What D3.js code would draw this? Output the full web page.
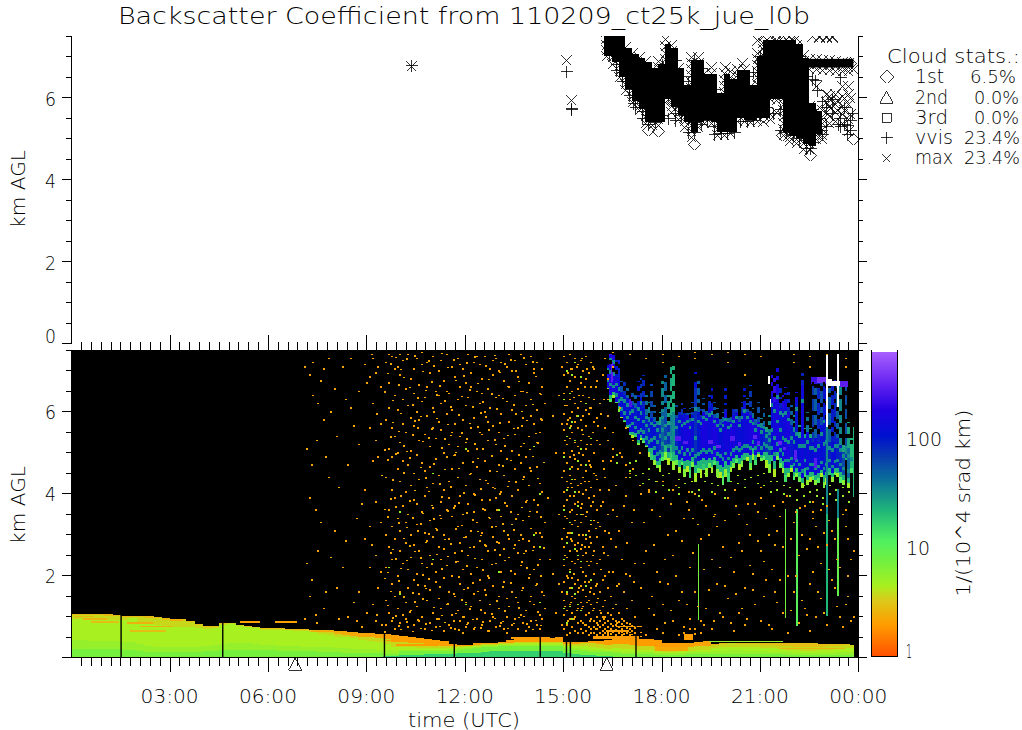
<!DOCTYPE html>
<html><head><meta charset="utf-8">
<script src="https://cdn.jsdelivr.net/npm/d3@7/dist/d3.min.js"></script>
<style>
html,body{margin:0;padding:0;background:#fff;overflow:hidden}
svg{display:block}
text{font-family:"DejaVu Sans";font-weight:200;fill:#000;stroke:none;white-space:pre}
.crisp *{shape-rendering:crispEdges}
.tick line,.domain{stroke:#000;stroke-width:1}
</style></head><body>
<svg id="c" width="1022" height="730"></svg>
<script>
// ---------- labels ----------
const titleText = "Backscatter Coefficient from 110209_ct25k_jue_l0b";
const xTickHours = [3,6,9,12,15,18,21,24];
const xTickLabels = ["03:00","06:00","09:00","12:00","15:00","18:00","21:00","00:00"];
const yTickKm = [0,2,4,6];
const legendNames = ["1st","2nd","3rd","vvis","max"];
const legendPct = ["6.5%","0.0%","0.0%","23.4%","23.4%"];
const colorTicks = [1,10,100];
const flagHours = [6.83,16.33];

// ---------- colour bar (value -> colour) ----------
const colorStops = [1,2,3.4,4.8,8.4,13,25,50,87,136,237,417,870];
const colorHexes = ["#ff5000","#ff9c00","#dcc818","#a8f020","#70f040","#50f060","#20b878","#0a7098","#0838b0","#0010d0","#2000e0","#6020f0","#a860ff"];

// ---------- near-surface aerosol layer, one entry per 15 minutes, km ----------
const layerTop = [1.06,1.06,1.05,1.05,1.04,1.03,1.01,1.01,1.0,.99,.97,.94,.92,.93,.87,.8,.75,.76,.83,.84,.79,.76,.74,.71,.7,.7,.69,.68,.68,.67,.66,.65,.63,.62,.6,.59,.58,.57,.56,.53,.51,.49,.47,.45,.42,.38,.32,.29,.3,.33,.34,.35,.37,.42,.46,.46,.47,.47,.47,.48,.36,.36,.37,.38,.4,.42,.44,.46,.46,.45,.44,.42,.34,.33,.33,.33,.36,.38,.32,.33,.34,.34,.34,.34,.34,.33,.33,.33,.33,.33,.33,.32,.32,.31,.31,.3];
const rimValue = [2.9,2.9,2.9,2.9,2.9,2.9,2.9,2.9,2.9,2.9,2.9,2.9,2.9,2.9,3,3,3,3,3,3,3,3,3,3,3,3,3,3,3,3,2.6,2.6,2.5,2.4,2.3,2.3,2.2,2.2,2.1,2.1,2.1,2.1,2.1,2.1,2.1,2.1,2.1,2.1,2.1,2.2,2.2,2.2,2.1,2.1,2,2,2,2,2,2,2.1,2.1,2.1,2.1,2.1,2.1,2,2,2,2,2,2,2,2,2.1,2.1,2.2,2.2,2.6,2.8,3,3,3,3,3,3,3,3,3,3,3,3,3,3,3,3];
const yellowTop = [1.03,1.03,1.02,1.02,1.01,1,.98,.98,.97,.96,.94,.91,.9,.91,.85,.78,.73,.74,.81,.82,.77,.74,.72,.69,.68,.68,.67,.66,.66,.64,.62,.6,.56,.54,.52,.5,.48,.46,.44,.36,.36,.34,.33,.32,.3,.28,.27,.27,.28,.3,.31,.32,.34,.35,.36,.36,.36,.36,.36,.36,.32,.32,.33,.33,.32,.3,.32,.32,.3,.28,.26,.24,.2,.2,.22,.24,.26,.28,.3,.32,.33,.32,.32,.32,.3,.3,.28,.26,.25,.24,.24,.25,.26,.27,.29,.29];
const limeTop = [.93,.93,.91,.9,.9,.91,.9,.94,.82,.8,.78,.76,.74,.74,.74,.7,.68,.71,.79,.8,.75,.72,.7,.67,.66,.66,.65,.64,.63,.61,.56,.53,.5,.48,.46,.42,.4,.36,.32,.25,.24,.24,.22,.22,.22,.22,.22,.24,.26,.28,.3,.3,.32,.32,.33,.33,.33,.33,.33,.33,.28,.26,.26,.24,.22,.2,.22,.2,.2,.18,.16,.15,.12,.12,.14,.15,.16,.18,.22,.24,.25,.25,.24,.24,.22,.22,.2,.18,.16,.14,.14,.16,.18,.2,.22,.22];
const softTop = [.42,.42,.4,.4,.38,.38,.36,.36,.32,.28,.25,.24,.24,.24,.25,.25,.27,.29,.32,.34,.34,.34,.32,.3,.3,.28,.27,.26,.25,.25,.24,.24,.22,.22,.2,.19,.19,.18,.16,.14,.18,.18,.18,.18,.18,.18,.19,.21,.23,.25,.27,.28,.29,.29,.3,.3,.3,.3,.3,.3,.24,.22,.2,.18,.16,.15,.15,.13,.13,.12,.11,.1,.09,.09,.1,.11,.11,.12,.14,.15,.16,.16,.15,.15,.14,.13,.13,.11,.1,.09,.09,.1,.1,.11,.12,.12];
const greenTop = [.2,.2,.2,.2,.2,.19,.18,.17,.15,.13,.12,.12,.12,.12,.12,.12,.14,.15,.16,.18,.18,.18,.16,.16,.16,.15,.15,.14,.14,.14,.12,.12,.12,.1,.1,.09,.09,.09,.08,.08,.14,.14,.14,.14,.14,.14,.15,.18,.2,.22,.24,.25,.26,.26,.27,.28,.28,.28,.28,.28,.2,.18,.15,.13,.12,.11,.1,.08,.08,.07,.07,.06,.06,.06,.06,.07,.07,.07,.08,.08,.08,.08,.08,.08,.07,.07,.07,.06,.06,.06,.05,.05,.05,.05,.05,.05];
const tealTop = [0,0,0,0,0,0,0,0,0,0,0,0,0,0,0,0,0,0,0,0,0,0,0,0,0,0,0,0,0,0,0,0,0,0,0,0,0,.01,.02,.03,.05,.06,.06,.07,.08,.08,.08,.09,.1,.1,.12,.14,.14,.14,.14,.14,.14,.14,.14,.14,.1,.08,.06,.05,.03,.02,.01,0,0,0,0,0,0,0,0,0,0,0,0,0,0,0,0,0,0,0,0,0,0,0,0,0,0,0,0,0];
// isolated patches: start h, end h, low km, high km, value
const layerPatches = [[.35,1.1,.9,.95,2.7],[.6,1.45,.83,.87,3],[1.7,2.5,.8,.86,2.6],[2.1,3.1,.72,.76,2.7],[1.8,2.9,.62,.66,3],[3,3.4,.88,.92,2.5],[.1,.7,.97,1,2.8],[5.15,5.75,.84,.87,2.2],[6.2,6.9,.84,.88,2.2],[7.3,8.4,.6,.63,2.3],[9.6,10.5,.38,.42,2],[9.9,11.2,.28,.31,2],[10.6,11.5,.34,.36,2.1],[13.4,14.6,.44,.5,2],[15.9,17.3,.45,.52,2],[16.3,17,.6,.66,2],[16.6,17.4,.72,.75,2],[18.7,18.95,.42,.55,2],[19.45,21.7,.36,.39,5.5],[17.8,18.8,.14,.24,2.3],[21.6,23.6,.2,.23,2.8]];
// signal drop-outs (start h, end h)
const dropouts = [[1.5,1.54],[4.6,4.64],[9.53,9.57],[11.66,11.7],[14.28,14.32],[15.08,15.12],[15.2,15.24],[17.2,17.24],[23.87,24]];

// ---------- cirrus, one entry per 5 minutes from 16:20, km ----------
const cloudStart = 16.33;
const cloudBase = [6.55,6.23,6.31,6.19,5.98,5.86,5.74,5.58,5.41,5.33,5.37,5.17,5.29,5.21,5.13,4.89,4.81,4.68,4.6,4.52,4.77,4.81,4.68,4.77,4.56,4.68,4.48,4.68,4.4,4.52,4.36,4.64,4.28,4.48,4.36,4.56,4.4,4.6,4.48,4.68,4.4,4.36,4.2,4.4,4.28,4.52,4.6,4.72,4.56,4.64,4.81,4.77,4.56,4.81,4.68,4.89,4.77,4.81,4.6,4.48,4.77,4.4,4.81,4.6,4.48,4.28,4.4,4.52,4.32,4.4,4.28,4.11,4.4,4.2,4.28,4.32,4.2,4.24,4.4,4.11,4.2,4.44,4.28,4.44,4.4,4.24,4.2,4.81,4.11,4.48];
const cloudGreenTop = [6.55,6.3,6.38,6.21,6.05,5.86,5.76,5.61,5.45,5.41,5.41,5.22,5.35,5.27,5.15,4.99,4.95,4.8,4.68,4.68,4.89,4.99,4.85,4.97,4.78,4.8,4.64,4.76,4.58,4.66,4.56,4.76,4.48,4.62,4.58,4.7,4.6,4.72,4.64,4.78,4.58,4.52,4.42,4.58,4.48,4.64,4.72,4.82,4.7,4.78,4.89,4.87,4.74,4.95,4.8,4.95,4.85,4.91,4.8,4.7,4.85,4.58,4.91,4.72,4.62,4.44,4.5,4.6,4.42,4.5,4.4,4.24,4.5,4.32,4.4,4.42,4.32,4.36,4.48,4.28,4.36,4.52,4.38,4.52,4.5,4.38,4.32,4.83,4.24,4.62];
const fringeValue = [7,12,5,16,7,5,14,6,10,4.5,18,7,5,12,8,4.5,20,6,9,5,14,7,4.5,18,6,10,5,13,7,4.5,16,8,5,11,4.5,20,6,9,5,15,7,4.5,12,6,18,5,8,14,4.5,7,22,5,10,6,16,4.5,9,13,5,7,20,4.5,8,11,5,16,6,4.5,13,7,9,5,18,6,4.5,11,7,14,5,8,4.5,20,6,10,5,13,7,24,5,16];
const coreBase = [6.55,6.39,6.47,6.23,6.11,5.86,5.78,5.66,5.5,5.5,5.46,5.29,5.41,5.33,5.17,5.09,5.09,4.93,4.77,4.85,5.01,5.17,5.01,5.17,5.01,4.93,4.81,4.85,4.77,4.81,4.77,4.89,4.68,4.77,4.81,4.85,4.81,4.85,4.81,4.89,4.77,4.68,4.64,4.77,4.68,4.77,4.85,4.93,4.85,4.93,4.97,4.97,4.93,5.09,4.93,5.01,4.93,5.01,5.01,4.93,4.93,4.77,5.01,4.85,4.77,4.6,4.6,4.68,4.52,4.6,4.52,4.36,4.6,4.44,4.52,4.52,4.44,4.48,4.56,4.44,4.52,4.6,4.48,4.6,4.6,4.52,4.44,4.85,4.36,4.77];
const coreTop = [7.12,7.37,7.37,6.8,6.8,6.47,6.39,6.31,6.23,6.15,6.07,6.15,6.31,6.07,5.9,5.74,5.82,5.74,5.66,5.66,5.98,5.86,5.66,5.9,5.98,5.82,5.9,5.9,5.82,5.9,5.74,5.9,6.55,5.98,5.82,5.98,5.9,6.07,6.07,5.82,5.82,5.66,5.74,5.98,5.74,5.74,5.9,5.98,5.74,5.98,6.15,5.98,5.9,5.82,5.66,5.74,5.58,5.66,5.5,5.41,6.39,6.23,6.55,6.07,6.07,6.23,5.98,5.66,5.5,6.23,5.33,6.63,5.33,5.5,5.33,5.25,5.33,5.25,5.66,5.98,5.58,5.25,5.25,5.25,5.33,5.17,5.01,5.17,5.09,4.85];
const cloudTop = [7.12,7.38,7.37,7.24,7.24,6.72,6.8,6.55,6.39,6.55,6.39,6.72,6.8,6.88,6.39,6.23,6.67,6.15,5.82,5.98,6.72,6.88,6.39,7.08,7.1,6.15,6.07,6.19,6.07,5.98,6.07,6.23,6.96,6.72,6.15,6.31,6.07,6.39,6.55,6.23,6.07,5.9,5.98,6.55,5.9,5.9,6.15,6.11,5.98,6.23,6.55,6.31,6.63,6.07,5.9,6.23,5.82,6.07,5.74,5.9,6.88,6.8,7.04,6.55,6.39,6.59,6.47,6.15,5.9,6.47,5.66,6.92,5.58,5.98,5.58,6.8,6.55,6.8,6.8,6.84,6.8,6.55,6.63,6.76,6.67,6.63,5.17,6.63,5.74,5.33];
const coreValue = [190,220,210,180,170,150,140,130,150,170,125,140,150,130,110,125,135,150,115,100,60,80,95,45,40,110,140,170,190,200,200,155,100,130,180,210,190,165,200,215,185,140,165,190,180,205,210,170,155,150,165,185,205,220,190,215,135,125,100,90,160,185,210,155,165,190,215,125,150,135,155,180,130,165,140,155,180,165,150,135,110,115,150,160,115,110,75,80,55,45];
const wispValue = [300,320,300,130,120,70,100,60,40,70,60,130,90,110,50,40,80,60,40,30,40,60,30,28,26,70,110,90,120,70,60,90,150,60,90,70,60,110,130,70,50,60,50,120,50,60,110,80,60,100,130,70,90,50,60,70,40,60,30,40,240,280,200,110,240,160,110,60,40,190,30,110,30,50,30,90,60,110,70,130,150,60,120,110,60,40,30,70,30,25];
// black gaps in the thin upper strands, per column, km
const wispGaps = [[6.9],[7.15],[6.95],[7.1,6.9],[7.05],[6.6],[6.7,6.5],[6.4],[6.3],[6.45,6.25],[6.2],[6.6,6.4,6.25],[6.65,6.45],[6.75,6.5,6.25],[6.25,6.05],[6.1,5.85],[6.5,6.25,6],[6,5.85],[5.75],[5.85],[6.55,6.25,6.05],[6.7,6.4,6.1],[6.25,5.95,5.75],[6.8,6.4,6.1],[6.9,6.5,6.2],[6,5.9],[5.98],[6.05],[5.95],[5.95],[5.95,5.82],[6.1,5.98],[6.8,6.7],[6.55,6.3,6.1],[6.05,5.9],[6.2,6.05],[6],[6.25],[6.4,6.2],[6.1,5.92],[5.95],[5.8],[5.85],[6.4,6.2,6.05],[5.82],[5.85],[6.05],[6.05],[5.88],[6.1],[6.4,6.25],[6.2,6.05],[6.5,6.25,6],[5.95],[5.8],[6.1,5.85],[5.7],[5.95,5.75],[5.62],[5.75,5.55],[6.7,6.5],[6.6,6.35],[6.85,6.65],[6.35,6.2],[6.25],[6.45,6.3],[6.3,6.1],[6,5.8],[5.75,5.6],[6.35],[5.5],[6.75],[5.45],[5.85,5.65],[5.45],[6.6,6.3,5.9,5.5],[6.3,5.9,5.55],[6.55,6.2,5.8,5.45],[6.5,6.1,5.85],[6.6,6.2],[6.55,6.15,5.8],[6.35,5.95,5.55],[6.4,6.05,5.6,5.4],[6.5,6.2,5.75,5.5],[6.45,6,5.7,5.45],[6.3,5.9,5.6,5.35],[],[6.4,6.05,5.7,5.35],[5.6,5.35],[5.2]];
// teal mottling inside the dense part, per column, km
const coreMottle = [[6.7,6.95],[6.6,6.9,7.2],[6.55,6.85,7.15],[6.35,6.6],[6.2,6.5],[6,6.25],[5.9,6.2],[5.8,6.1],[5.6,5.9,6.1],[5.65,5.95],[5.55,5.8],[5.45,5.75,6],[5.5,5.9,6.15],[5.45,5.7],[5.3,5.6,5.8],[5.2,5.5],[5.25,5.65],[5.05,5.3,5.6],[4.9,5.2,5.5],[4.95,5.35],[5.15,5.5,5.8],[5.3,5.6],[5.1,5.4],[5.3,5.65],[5.15,5.5],[5.05,5.55],[4.95,5.3,5.7],[5.05,5.6],[4.9,5.65],[5,5.7],[4.9,5.55],[5,5.75],[4.85,5.3,6],[4.9,5.7],[4.95,5.65],[5,5.8],[4.95,5.75],[5,5.85],[4.95,5.9],[5.05,5.7],[4.9,5.6],[4.85,5.5],[4.78,5.6],[4.92,5.75],[4.8,5.55],[4.9,5.6],[5,5.7],[5.05,5.8],[5,5.6],[5.05,5.8],[5.1,5.95],[5.1,5.8],[5.05,5.7],[5.2,5.65],[5.05,5.5],[5.15,5.6],[5.05,5.45],[5.15,5.55],[5.1,5.35],[5.05,5.25],[5.05,5.5,6.1],[4.9,5.3,5.95],[5.15,5.7,6.3],[5,5.5,5.9],[4.9,5.3,5.85],[4.75,5.25,5.9],[4.75,5.2,5.75],[4.8,5.3],[4.65,5.2],[4.75,5.4,6],[4.65,5.1],[4.5,5.1,6.2],[4.75,5.1],[4.55,5.2],[4.65,5.05],[4.65,5.05],[4.55,5],[4.6,5.1],[4.7,5.4],[4.55,5.15,5.7],[4.65,5.2],[4.75,5.05],[4.6,5],[4.72,5.1],[4.75,5.1],[4.65,5],[4.55,4.85],[4.95,5.05],[4.5,4.85],[4.8]];
// saturated / bright strands: start h, end h, low km, high km, value
const cirrusCells = [[22.55,22.75,6.66,6.82,300],[22.75,23,6.68,6.84,500],[23,23.2,6.62,6.78,2000],[23.2,23.45,6.6,6.72,2000],[23.45,23.7,6.58,6.72,400],[21.25,21.3,6.65,6.85,2000],[21.3,21.35,6.1,6.3,2000]];
const violetCells = [[19.42,19.58,5.2,5.3,400],[19.67,19.8,5.1,5.18,420],[20.1,20.25,5.28,5.38,380],[20.33,20.42,5.15,5.25,400],[20.8,20.92,5.32,5.42,420],[20.92,21,5.18,5.26,400],[21.55,21.67,5.18,5.28,420],[21.7,21.8,5.05,5.13,400],[18.42,18.58,5.28,5.38,360],[18.67,18.8,5.2,5.28,380],[17,17.1,6.1,6.4,340],[16.45,16.53,6.7,7.2,400],[22.65,22.73,4.6,4.85,380],[22.05,22.13,4.8,5.05,400]];
// vertical shafts: hour, low km, high km, value
const shafts = [[19.1,.9,2.75,8],[21.75,.95,3.6,8],[22.11,.75,3.6,12],[23.03,1,3.5,25],[23.03,3.5,5.6,40],[23.03,5.6,7.38,2000],[23.36,1.5,3.4,10],[23.36,3.4,4.1,40],[23.36,6.1,7.38,2000],[23.83,3.9,5.6,25]];

// ---------- isolated weak returns: [hour, km, km, ...] ----------
const orangeSpecks = [
[7.1,.95,7.1],[7.25,6.9,1.5,3.9],[7.33,7.2,6.4],[7.42,3.6,1.05],[7.5,6.2,2.6],[7.67,5.8,1.2,7.05],[7.83,7.3,4.4],[8,3.1,6.55],[8.08,5.4,1.7],[8.25,7.1,2.2],[8.42,4.7,1],[8.5,7.3,6.1],[8.67,.9,3.4],[8.75,6.5,5.2,1.6],[8.92,7.15,2.9,4.1],[9,6.7,1.1],[9.08,6.85,5.6,3.2,2.2],[9.17,7.3,6.2,1.3,4.8],[9.25,6.95,5.3,3.8,2.5,.9],[9.33,7.1,4.9,1.7],[9.42,6.6,5.7,2.1,3.3],
[9.58,7.2,5.8,4.4,3,1.4,.8,2.2],[9.67,6.7,5.1,3.6,2.7,1.1,6.1,7.4],[9.75,7.35,4.9,4.1,2.4,1.8,.9,5.6,3.2],[9.83,6.4,5.4,3.9,2.9,1.5,7.05,.7],[9.92,7.1,6.05,4.6,3.4,2,1.2,5],[10,6.9,5.25,4.3,3.1,2.6,1.6,.85,7.4],[10.08,7.25,6.3,5.7,3.7,2.3,1.05,4.8],[10.17,6.55,5.5,4.05,2.8,1.35,.95,3.3],[10.25,7.4,6.15,4.7,3.5,2.15,1.7,.75],[10.33,6.8,5.05,4.2,3,2.45,1.15,5.85],[10.42,7.05,5.65,3.85,2.75,1.9,.8,6.45,4.5],[10.5,7.3,6,4.95,3.25,2.05,1.25,3.75],[10.58,6.65,5.3,4.35,2.6,1.55,.9,5.8],[10.67,7.15,6.25,4.75,3.55,2.3,1,7.45],[10.75,6.35,5.45,3.95,3.05,1.75,.7,4.55],[10.83,7.2,5.9,4.15,2.85,2.2,1.4,6.6],[10.92,6.95,5.15,4.65,3.35,1.65,.85,2.5],[11,7.35,6.1,5.6,3.65,2.95,1.1,4.25],[11.08,6.5,5.35,4.85,3.15,2.1,.75,1.85],[11.17,7,6.4,4.45,2.7,1.45,.95,5.75],[11.25,7.25,5.55,3.8,2.4,1.2,6.2,3.4],[11.33,6.75,5,4.1,3,1.95,.65,2.65],[11.42,7.4,5.95,4.9,3.6,2.25,1.3,6.5],[11.5,6.45,5.2,4.3,2.9,1.6,.8,3.9],[11.58,7.1,6.05,4.6,3.45,2,1.05,5.5],[11.67,6.85,5.7,3.7,2.55,1.5,.7,4.95],[11.75,7.3,6.3,4.4,3.2,2.35,1.15,5.15],[11.83,6.6,5.4,3.95,2.8,1.8,.9,7.15],[11.92,7.05,5.8,4.75,3.5,2.15,1,.6],[12,6.7,5.25,4.2,2.95,1.35,.75,6.15],[12.08,7.4,6.35,5.05,3.75,2.5,1.7,.85],[12.17,6.95,5.6,4.5,3.1,1.25,2.05,6.6],[12.25,7.2,5.85,4,2.7,1.55,.7,3.55],[12.33,6.5,5.1,4.65,3.3,2.2,.95,7.35],[12.42,7.15,6.2,4.35,2.85,1.4,1.9,5.5],[12.5,6.8,5.45,3.85,3.05,2.4,.8,6.45],[12.58,7.35,6,4.8,3.6,1.65,1.1,2.75],[12.67,6.55,5.3,4.25,2.6,2,.65,5.75],[12.75,7.05,6.1,4.55,3.4,1.3,.9,3.85],[12.83,6.9,5.65,4.15,2.95,1.75,1,7.25],[12.92,7.3,5.2,3.9,3.2,2.3,.75,6.35],[13,6.4,5.5,4.7,2.8,1.5,1.2,7],[13.08,7.2,5.95,4.05,3.45,2.1,.85,5.05],[13.17,6.75,5.35,4.45,2.65,1.85,.7,3.1],[13.25,7.1,6.25,4.85,3.7,1.45,1,.6],[13.33,6.6,5.75,4.3,2.9,2.45,1.25,7.4],[13.42,7,5.05,3.95,3.25,1.6,.8,6.05],[13.5,7.25,6.4,4.6,2.75,2.05,.95,5.45],[13.58,6.85,5.6,4.1,3.5,1.35,.7,2.55],[13.67,7.4,5.15,4.75,3,2.25,1.05,6.5],[13.75,6.5,5.85,4.35,3.35,1.7,.85,2.9],[13.83,7.15,6.15,4.9,3.8,2.6,1.15,.65],[13.92,6.7,5.4,4.2,2.85,1.95,.75,3.45],[14,7.35,5.9,4.55,3.15,1.5,.9,6.3],[14.08,6.95,5.7,3.85,2.7,2.15,1.3,7.05],[14.17,7.2,6.05,4.65,3.55,1.8,.8,5.25],[14.25,6.45,5.5,4.25,3.05,2.4,1.05,.7],[14.33,7.05,5.8,4.05,2.95,1.6,.95,6.6],[14.42,6.2,3.3,1.2],[14.58,7.3,2.4],[14.75,5,1.1],[14.92,7.1,4.4,2.9,1.6,.8,5.7],
[15.0,7.35,6.9,6.45,5.95,5.55,5,4.55,4.05,3.7,3.15,2.7,2.25,1.85,1.4,1.05,.7],[15.08,7.2,6.6,6.15,5.7,5.2,4.75,4.3,3.85,3.4,2.95,2.45,2,1.55,1.15,.8,.55],[15.17,7.4,6.75,6.3,5.85,5.35,4.9,4.45,3.95,3.55,3.05,2.6,2.15,1.7,1.3,.95,.6],[15.25,7.05,6.5,6,5.5,5.05,4.65,4.15,3.6,3.25,2.85,2.35,1.95,1.5,1.1,.75],[15.33,7.3,6.85,6.2,5.75,5.25,4.85,4.35,3.75,3.35,2.75,2.3,1.8,1.45,1,.65],[15.42,7.15,6.55,6.1,5.6,5.15,4.6,4.2,3.8,3.2,2.8,2.4,1.9,1.6,1.2,.85,.6],[15.5,7.25,6.7,6.25,5.8,5.3,4.7,4.25,3.65,3.3,2.65,2.2,1.75,1.35,.9,.7],[15.58,7,6.4,5.9,5.45,4.95,4.4,4,3.5,3,2.5,2.1,1.65,1.25,.85,.6],[15.67,7.35,6.8,6.05,5.65,5.1,4.55,4.1,3.45,2.9,2.55,2,1.5,1.05,.8,.65],[15.75,6.95,6.35,5.95,5.4,4.8,4.3,3.9,3.1,2.7,2.25,1.85,1.4,1.1,.75,.55],[15.83,7.2,6.6,6.1,5.2,4.65,4.15,3.7,3.25,2.8,2.35,1.7,1.3,.95,.7,.6],[15.92,7.05,6.3,5.75,5,4.5,3.95,3.35,2.6,2.05,1.55,1.2,.9,.75,.6],[16,6.75,5.85,5.3,4.35,3.6,2.95,2.3,1.8,1.35,1,.85,.7,.55],
[16.08,6.2,5.2,4.1,3.2,2.4,1.6,1.15,.9,.75,.6],[16.17,6.9,4.8,3.8,2.7,1.9,1.25,1,.8,.65,.55],[16.25,7.3,5.6,4.4,3.1,2,1.4,1,.85,.7,.6],[16.33,3.5,2.5,1.7,1.1,.9,.75,.6,.55],[16.42,4.8,2.9,1.5,1.05,.82,.7,.58],[16.5,5.1,3.6,2.1,1.2,.95,.78,.62],[16.58,4.2,2.7,1.3,.9,.8,.68,.56],[16.67,3.1,1.8,1.1,.88,.75,.6],[16.75,4.9,2.4,.95,.82,.7,.62,.55],[16.83,3.7,1.6,.9,.78,.65,.58],[16.92,2.8,1.2,.85,.72,.6],[17,4.5,2,.82,.7,.62,.55],[17.08,3.3,1.4,.78,.66,.57],[17.17,2.3,1,.72,.6],[17.33,4,1.7,.62,.52],[17.5,2.6,.55],[17.67,3.6,1.5],[17.83,4.3,2.1,.7],[18,1.3,.6],[18.17,3,1.8],[18.33,4.1,2.5,.9],[18.5,1.4,.55],[18.67,3.4,.75,.6],[18.83,2.2,.95,.7,.55],[19,4,1.6,.7,.58],[19.17,2.9,.9,.6],[19.33,3.7,1.2],[19.5,2.4,.7],[19.67,3.2,1.8],[19.83,1,2.7],[20,3.9,1.45],[20.17,2.1,.65],[20.33,3.5,1.1,2.8],[20.5,1.7,.8],[20.67,3,2.25],[20.83,3.75,1.3],[21,.9,2.6],[21.17,3.4,1.9],[21.33,2.15,.7],[21.5,3.1,1.35],[21.67,1.1,2.7,3.8],[21.83,2,.6],[22,3.3,1.6],[22.17,2.5,.85],[22.33,3.7,1.2],[22.5,1.8,.65,2.9],[22.67,3.2,1],[22.83,2.3,1.45,3.6],[23,2.75,.8],[23.17,1.9,3.1],[23.33,1.25,2.4],[23.5,3.5,.75],[23.67,2,1.5,2.9],[23.83,1,2.6],
[16.5,7.45,7.1],[17.5,7.3],[18,7.4,7.2],[18.5,7.35],[19,7.3,7.45],[19.5,7.4],[20,7.2,7.45],[20.5,7.4,6.9],[21,7.35],[17,7.4],[22,7.4,7.2],[22.5,7.35,7.1],[23,7.4],[23.6,7.3,7.1],
[16.35,6.8,6.3,5.9,5.3],[16.5,5.5,4.9],[16.7,6.1,5],[16.9,5.6,4.7,4.4],[17.1,5.3,4.6],[17.3,5,4.2],[17.6,4.6,4.1],[18,4.3,3.9],[18.4,4.2],[18.8,4.05,3.6],[19.2,3.85],[19.6,4,3.5],[20.2,4.1],[20.6,3.75],[21,4.15,3.9],[21.4,3.7],[21.8,3.95],[22.2,3.65],[22.6,3.55,3.8],[23,3.7],[23.6,3.6]];
const orangeSpecksExtra = [
[7.15,2.3,5.1],[7.3,4.7,1.9],[7.46,5.3,.85],[7.6,3.3,6.75],[7.75,1.6,4.9],[7.9,6,2.45],[8.15,4.15,.95],[8.35,2.85,6.3],[8.6,5.65,1.35],[8.85,3.75,.75],[9.13,2.75,7.4],[9.3,1.05,5.95],[9.46,4.45,.8],
[9.54,3.62,6.48,1.93,5.07,.63],[9.63,4.82,2.08,6.93,1.28,3.44],[9.71,1.62,5.38,3.87,7.17,2.56],[9.79,6.28,.97,4.33,2.64,5.74],[9.88,2.41,7.32,3.68,1.02,4.97],[9.96,5.52,1.87,6.66,3.29,.78],[10.04,3.94,.69,5.96,2.18,7.03],[10.13,1.49,6.84,4.51,2.91,5.17],[10.21,5.03,3.18,.88,7.29,2.37],[10.29,2.72,6.59,1.11,4.88,3.83],[10.38,6.17,1.58,3.41,5.44,.64],[10.46,4.08,7.36,2.59,1.36,5.78],[10.54,1.77,5.61,3.09,6.34,.92],[10.63,5.89,2.44,4.64,.71,3.27],[10.71,3.52,6.98,1.44,5.28,2.02],[10.79,.83,4.38,6.52,2.81,1.69],[10.88,5.36,3.02,7.24,1.92,4.06],[10.96,2.29,6.72,.67,3.71,5.58],[11.04,4.73,1.23,5.99,3.38,7.11],[11.13,3.11,5.84,2.52,.94,6.41],[11.21,6.63,1.73,4.24,3.47,.76],[11.29,2.16,5.12,7.42,1.03,3.92],[11.38,4.59,.86,6.27,2.89,5.33],[11.46,1.31,3.58,5.69,7.08,2.47],[11.54,6.11,2.77,.73,4.16,5.42],[11.63,3.66,1.56,7.27,4.93,.9],[11.71,5.01,2.34,6.76,1.08,3.14],[11.79,1.97,4.62,.68,5.92,3.77],[11.88,6.37,3.23,5.49,1.41,2.61],[11.96,4.02,.99,2.93,6.88,1.67],[12.04,2.24,5.34,7.19,3.53,.81],[12.13,5.71,1.19,4.47,2.69,6.53],[12.21,3.36,6.12,.93,1.82,4.78],[12.29,.74,5.21,2.42,7.33,3.97],[12.38,4.86,1.62,6.69,3.08,5.63],[12.46,2.98,5.97,1.16,4.11,.72],[12.54,6.24,3.63,2.14,.87,5.1],[12.63,1.53,4.32,7.12,2.73,5.87],[12.71,5.56,.66,3.42,1.94,6.79],[12.79,3.19,6.44,4.92,2.28,1.07],[12.88,.96,2.63,5.31,7.37,4.13],[12.96,4.54,1.39,6.07,3.6,2.83],[13.04,2.51,5.73,.77,3.99,6.96],[13.13,6.32,1.72,4.68,3.26,.89],[13.21,1.14,3.78,5.16,2.37,7.16],[13.29,5.42,2.99,.71,6.62,4.18],[13.38,3.56,7.26,1.83,4.81,2.12],[13.46,.84,6.16,2.67,5.59,3.12],[13.54,4.29,1.47,5.94,3.39,7],[13.63,2.86,6.74,.98,4.95,1.21],[13.71,5.66,3.67,2.33,1.64,6.01],[13.79,1.01,4.41,7.31,2.54,5.23],[13.88,6.47,3.84,.82,5.79,2.19],[13.96,2.03,5.08,1.37,3.57,4.63],[14.04,4.91,7.22,2.62,.69,6.18],[14.13,1.76,3.04,5.47,6.86,.91],[14.21,5.24,2.26,4.37,1.12,3.73],[14.29,3.43,6.42,.79,5.82,1.99],[14.38,4.76,2.68,1.52],[14.5,3.9],[14.67,2.05,5.9],[14.85,3.5,1.8,6.4],
[15.04,5.3,2.5,6.15,3.45,1.25],[15.13,6.95,4.15,1.95,3.05,5.8,.9],[15.21,5.65,2.9,1.35,7.05,4.25],[15.29,3.95,6.35,2.05,.95,4.95],[15.38,5.9,2.6,7.1,1.15,3.5],[15.46,4.05,6.4,1.7,3,5],[15.54,2.75,5.55,7.3,1.2,3.75],[15.63,6.6,4.3,1.85,2.7,.8],[15.71,3.55,5.2,7.05,2.35,1.35],[15.79,6.1,4.7,2.95,1.6,.9],[15.88,3.8,7.1,5.5,2.5,1.15],[15.96,4.45,6.6,3.15,1.75,.7],[16.04,5.65,3.3,1.45,.8],[16.13,3.7,5.95,2.15,1.1],[16.21,4.6,2.55,.95,6.3],
[16.38,2.1,3.05,4.1],[16.62,3.45,1.75,.85],[16.88,2.05,3.95],[17.13,3.6,1.85],[17.42,2.3,3.3],[17.58,1.2,4.05],[17.75,2.75,1.05],[17.92,3.45,1.85],[18.08,2.4,.85],[18.25,3.75,1.15],[18.42,2,3.1],[18.58,2.85,1.6],[18.75,3.8,1.3],[18.92,2.55,3.4],[19.08,1.25,3.25],[19.25,2.15,.8],[19.42,3,1.65],[19.58,3.45,.9],[19.75,2.2,1.1],[19.92,3.35,1.75],[20.08,2.45,.85],[20.25,3.7,1.55],[20.42,2.6,1.2],[20.58,3.25,.95],[20.75,2.05,1.65],[20.92,3.55,2.85],[21.08,1.5,2.35],[21.25,3,.8],[21.42,2.75,1.6],[21.58,1.9,3.45],[21.92,2.9,1.15],[22.08,2,3.55],[22.25,1.4,3],[22.42,2.65,1.05],[22.58,3.4,2.1],[22.75,1.6,2.7],[22.92,3.05,1.1],[23.08,2.15,3.35],[23.25,2.9,1.7],[23.42,2.2,1],[23.58,3.2,1.3],[23.75,2.4,.9]];
const greenSpecks = [[15,6.3,4.9,3.6,2.4,1.2],[15.08,7,5.4,4.1,2.8,1.6,.85],[15.17,6.45,5.6,4.6,3.3,2.1,1.25],[15.25,6.9,5.75,4.35,3.05,1.7,.95],[15.33,7.2,5.3,4.05,2.65,1.55],[15.42,5.9,4.8,3.7,2.5,1.3],[15.5,6.85,5.1,3.5,2.35,1.15],[15.67,6.2,4.7,3,1.75],[15.83,5.35,3.35,1.9],[13,3.6,2.1],[12,5.1,1.3],[11,2.4,4.5],[10,3.55,1.55],[14.08,3,5.15],[14.25,2.7,1.35,4],[9.67,2.2],
[16.6,4.95,4.75],[17,4.55,4.75,4.4],[17.2,4.8,4.45],[17.4,4.5,4.25],[17.6,4.35,4.6],[17.8,4.3,4.05],[18,4.2,4.45],[18.2,4.5,4.1],[18.5,4.15,4.35,4],[18.7,4.25,4.45],[18.9,4.05,4.3],[19.1,4.1,3.95],[19.3,4.3,4.5],[19.5,4.05,4.25],[19.7,4.4,4.2],[19.9,4.1,3.9],[20.1,4.3,4.55],[20.3,4.25,4.45],[20.5,4.15,4.35],[20.7,4.4,4.6],[20.9,4.25,4.45],[21.1,4.2,4.5],[21.3,4.05,4.3],[21.5,4.3,4.1],[21.7,4,4.2],[21.9,3.95,4.15],[22.1,3.85,4.1],[22.3,3.95,4.2],[22.5,3.8,4.05],[22.7,3.95,4.1],[22.9,3.9,3.75],[23.1,4,4.2],[23.3,3.85,4.1],[23.5,3.95,4.15],[23.7,3.8,4.05]];

// ---------- top panel: cloud-level markers, [hour, km, km, ...] ----------
const maxMarks = [[10.35,6.78],[15.1,6.93],[15.23,5.95],
[16.3,7.6,7.45,7.3,7.17,7.02],[16.5,7.6,7.47,7.3,7.16,7,6.83],[16.7,7.6,7.44,7.28,7.12,6.97,6.8,6.66,6.5],[16.9,7.25,7.1,6.96,6.8,6.65,6.5,6.35,6.2],[17.1,7.1,6.95,6.82,6.66,6.5,6.36,6.2,6.05,5.9],[17.3,7,6.86,6.7,6.54,6.4,6.25,6.1,5.95,5.8,5.7],[17.5,6.9,6.75,6.6,6.46,6.3,6.15,6,5.85,5.7,5.55,5.4],[17.7,6.7,6.55,6.4,6.26,6.1,5.95,5.8,5.65,5.5,5.35],[17.9,6.9,6.75,6.58,6.42,6.28,6.12,5.98,5.82,5.65,5.5,5.35],[18.1,7.42,7.28,7.1,6.96,6.8,6.65,6.5,6.36,6.2,6.06,5.9],[18.3,7.3,7.15,7,6.84,6.7,6.55,6.4,6.25,6.1,5.95,5.8,5.65],[18.5,6.72,6.55,6.4,6.25,6.1,5.96,5.8,5.66,5.5],[18.7,6.2,6.05,5.9,5.75,5.6,5.45,5.3],[18.9,7,6.85,6.7,6.55,6.4,6.25,6.1,5.95,5.8,5.65,5.5,5.35,5.2,5.05],[19.1,7,6.85,6.68,6.52,6.38,6.2,6.05,5.9,5.75,5.6,5.45,5.3],[19.3,6.6,6.45,6.3,6.15,6,5.85,5.7,5.55,5.4],[19.5,6.6,6.46,6.3,6.14,6,5.84,5.68,5.54,5.38],[19.7,6,5.85,5.7,5.55,5.4,5.25,5.1],[19.9,6.6,6.45,6.3,6.15,6,5.85,5.7,5.55,5.4,5.25,5.1],[20.1,6.5,6.35,6.2,6.05,5.9,5.75,5.6,5.45,5.3,5.15],[20.3,6.7,6.55,6.38,6.25,6.1,5.95,5.8,5.65,5.45],[20.5,6.7,6.54,6.4,6.24,6.08,5.92,5.78,5.62,5.45],[20.7,6.3,6.15,6,5.85,5.7,5.55,5.42],[20.9,7.1,6.95,6.8,6.65,6.5,6.35,6.2,6.05,5.9,5.75,5.6,5.45],[21.1,7.5,7.35,7.2,7.05,6.9,6.75,6.6,6.45,6.3,6.15,6,5.85,5.7,5.55,5.42],[21.3,7.5,7.34,7.18,7.02,6.88,6.72,6.58,6.42,6.28,6.12,5.98,5.6,5.5],[21.5,7.55,7.4,7.25,7.1,6.95,6.8,6.65,6.5,6.35,6.2,6.05,5.95,5.65],[21.7,7.5,7.36,7.2,7.04,6.9,6.74,6.6,6.44,6.3,6.14,6,5.85,5.7,5.55,5.4,5.25,5.1],[21.9,7.5,7.34,7.2,7.05,6.9,6.75,6.6,6.45,6.28,6.12,5.96,5.8,5.66,5.5,5.35,5.2,5.05,4.95],[22.1,7.45,7.3,7.15,7,6.85,6.7,6.55,6.4,6.25,6.1,5.95,5.8,5.62,5.46,5.3,5.15,5,4.9],[22.3,7.05,6.9,6.75,6.6,6.45,6.3,6.1,5.8,5.65,5.5,5.35,5.2,5.05,4.9,4.75],[22.5,6.95,6.82,6.7,5.8,5.65,5.5,5.35,5.2,5.05,4.9,4.75],[22.7,6.95,6.82,6.7,6.3,5.7,5.55,5.4,5.25,5.1,5],[22.9,6.92,6.8,6.68,5.7,5.5,5.38,5.25,5.1,5],[23.1,6.92,6.8,6.68,6.05,5.8,5.55,5.4],[23.3,6.9,6.78,6.66,6.1,5.85,5.65,5.45],[23.5,6.88,6.76,6.65,6.3,6.05,5.8,5.6,5.4],[23.7,6.85,6.75,6.65,6.3,6.1,5.85,5.5,5.2],[23.85,6.7],[22.8,7.5,7.46],[23,7.5,7.46],[23.2,7.5,7.46],[22.6,7.5],[20.9,7.4],[21.95,7.42],[20.1,6.65],[19.5,6.75],[19.95,6.75],[20.45,6.85],[23.15,5.75,5.95],[23.35,5.7,5.95],[23.55,5.7,6],[23.75,5.6,6],[23,6.1,5.9,5.65]];
const vvisMarks = [[10.35,6.78],[15.1,6.63],[15.23,5.72],[15.25,5.7],
[16.4,7.5,7.3,7.1],[16.6,7.4,7.2,7,6.8,6.65],[16.8,7.2,7,6.8,6.6,6.4],[17,7,6.8,6.6,6.4,6.2,6.05],[17.14,5.86],[17.2,6.9,6.6,6.3,6,5.75],[17.4,6.7,6.45,6.15,5.9,5.65,5.5],[17.6,6.4,6.1,5.8,5.55,5.35],[17.8,6.5,6.2,5.9,5.6,5.4],[18,6.8,6.4,6.1,5.55],[18.2,7.2,6.8,6.4,6.05,5.5],[18.4,6.9,6.5,6.15,5.85,5.6,5.45],[18.6,6.5,6.15,5.85,5.55],[18.8,6.4,6.1,5.8,5.5,5.15],[19,6.9,6.5,6.1,5.8,5.4,5.15],[19.2,6.7,6.3,5.9,5.6,5.35],[19.4,6.3,6,5.7,5.45],[19.6,6.2,5.9,5.6,5.3,5.1],[19.8,6,5.7,5.4,5.13],[20,6.4,6.1,5.7,5.35,5.13],[20.2,6.3,5.9,5.55,5.15],[20.4,6.5,6.1,5.7,5.42],[20.6,6.5,6,5.6,5.42],[20.8,6.6,6.1,5.7,5.45],[21,7,6.5,6,5.55],[21.2,7.2,6.7,6.2,5.75],[21.4,7.2,6.6,6.1,5.6],[21.6,7.2,6.7,6.2,5.7,5.2],[21.8,7.1,6.5,6,5.5,5.15],[22,7,6.5,6,5.5,5.1],[22.2,7,6.4,5.9,5.4,5],[22.4,6.5,5.7,5.3,4.95,4.75],[22.53,4.75],[22.6,6.45,5.7,5.2,4.9],[22.67,6.41],[22.73,6.17],[22.8,5.5,5.2],[22.9,5.9,5.1],[23,5.75,5.3],[23.2,5.95,5.6],[23.39,5.35],[23.44,6.49],[23.45,5.3,5.5],[23.55,5.35,5.75],[23.65,5.1,5.32],[23.75,5.45,5.2],[23.8,5.6]];
const firstMarks = [[17.59,5.23],[17.9,5.19],[18.98,4.88],[21,6.9],[21.66,5.09],[22.52,4.61],[23.84,4.99],[23.75,6.85]];
// where the markers overlap into a solid mass: hour, high km, low km
const massHours = [16.25,16.5,16.7,16.9,17.1,17.3,17.5,17.7,17.9,18.1,18.3,18.5,18.7,18.9,19.1,19.3,19.5,19.7,19.9,20.1,20.3,20.5,20.7,20.9,21.1,21.3,21.5,21.7,21.9,22.1,22.3,22.5,22.7,22.9];
const massHigh = [7.5,7.5,7.5,7.2,7.05,6.95,6.85,6.7,6.8,7.3,7.2,6.7,6.3,6.9,6.9,6.55,6.55,6.1,6.55,6.45,6.65,6.65,6.3,7,7.4,7.4,7.4,7.4,7.4,7.3,6.95,5.85,5.65,5.5];
const massLow = [7,6.85,6.5,6.2,5.9,5.7,5.4,5.4,5.4,5.95,5.75,5.55,5.4,5.15,5.4,5.45,5.4,5.15,5.15,5.15,5.5,5.45,5.45,5.5,5.5,5.95,5.95,5.15,5.05,5,4.85,4.8,5.1,5.1];
const flatBand = [22.35,23.85,6.72,6.93];

// ---------- scales ----------
const x = d3.scaleLinear([0,24],[71.2,858.3]);
const yA = d3.scaleLinear([0,7.5],[343,35.5]);
const yB = d3.scaleLinear([0,7.5],[657,349.5]);
const colorMax = 870;
const colorOf = d3.scaleLog().domain(colorStops).range(colorHexes).clamp(true);
const col = v => v > colorMax ? "#ffffff" : colorOf(v);

const svg = d3.select("#c");
const defs = svg.append("defs");
defs.append("clipPath").attr("id","topClip").append("rect").attr("x",71).attr("y",36).attr("width",799).attr("height",307);
defs.append("clipPath").attr("id","botClip").append("rect").attr("x",71).attr("y",350).attr("width",787).attr("height",307);

// ---------- bottom panel ----------
const heat = svg.append("g").attr("clip-path","url(#botClip)");
heat.append("rect").attr("x",x(0)).attr("y",yB(7.5)).attr("width",x(24)-x(0)).attr("height",yB(0)-yB(7.5)).attr("fill","#000");
const cell = (g,t0,t1,k0,k1,v)=>g.append("rect").attr("x",x(t0)).attr("width",Math.max(x(t1)-x(t0),1)).attr("y",yB(k1)).attr("height",Math.max(yB(k0)-yB(k1),1)).attr("fill",col(v)).attr("shape-rendering","crispEdges");
const blank = (g,t0,t1,k0,k1)=>g.append("rect").attr("x",x(t0)).attr("width",x(t1)-x(t0)).attr("y",yB(k1)).attr("height",yB(k0)-yB(k1)).attr("fill","#000").attr("shape-rendering","crispEdges");

layerTop.forEach((top,i)=>cell(heat,i*.25,(i+1)*.25+.01,0,top,rimValue[i]));
const bands = [[yellowTop,3.9],[limeTop,4.8],[softTop,5.8],[greenTop,8],[tealTop,19]];
bands.forEach(([arr,v])=>arr.forEach((top,i)=>{ if(top>0) cell(heat,i*.25,(i+1)*.25+.01,0,top,v); }));
layerPatches.forEach(p=>cell(heat,p[0],p[1],p[2],p[3],p[4]));
dropouts.forEach(d=>heat.append("rect").attr("x",x(d[0])).attr("width",Math.max(x(d[1])-x(d[0]),1.4)).attr("y",yB(d[1]>=24?7.5:1.15)).attr("height",yB(0)-yB(d[1]>=24?7.5:1.15)).attr("fill","#000"));

const step = 1/12;
cloudBase.forEach((b,i)=>{
  const t=cloudStart+i*step, e=t+step;
  cell(heat,t,e,coreTop[i],cloudTop[i],wispValue[i]);
  cell(heat,t,e,coreBase[i],coreTop[i],coreValue[i]);
  cell(heat,t,e,cloudGreenTop[i],coreBase[i],26);
  cell(heat,t,e,b,cloudGreenTop[i],fringeValue[i]);
  coreMottle[i].forEach(k=>cell(heat,t,e,k,k+.09,38));
});
violetCells.concat(cirrusCells).forEach(p=>cell(heat,p[0],p[1],p[2],p[3],p[4]));
cloudBase.forEach((b,i)=>{
  const t=cloudStart+i*step, e=t+step;
  wispGaps[i].forEach(k=>blank(heat,t,e,k,k+.1));
});
shafts.forEach(s=>heat.append("rect").attr("x",x(s[0])).attr("width",1.3).attr("y",yB(s[2])).attr("height",yB(s[1])-yB(s[2])).attr("fill",col(s[3])).attr("shape-rendering","crispEdges"));

const drawSpecks=(list,v)=>list.forEach(c=>c.slice(1).forEach(k=>heat.append("rect").attr("x",x(c[0])).attr("y",yB(k)).attr("width",2).attr("height",1.6).attr("fill",col(v)).attr("shape-rendering","crispEdges")));
drawSpecks(orangeSpecks,2.1);
drawSpecks(orangeSpecksExtra,2.3);
drawSpecks(greenSpecks,5.5);

// ---------- top panel markers ----------
const mark = {
  x:r=>`M${-r},${-r}L${r},${r}M${-r},${r}L${r},${-r}`,
  p:r=>`M${-r},0H${r}M0,${-r}V${r}`,
  d:r=>`M0,${-r}L${r},0L0,${r}L${-r},0Z`,
  t:r=>`M0,${-r}L${r},${r*.85}H${-r}Z`,
  s:r=>`M${-r},${-r}H${r}V${r}H${-r}Z`
};
const mk=(g,path,px,py)=>g.append("path").attr("d",path).attr("transform",`translate(${Math.round(px)+.5},${Math.round(py)+.5})`).attr("fill","none").attr("stroke","#000").attr("stroke-width",.8).attr("shape-rendering","crispEdges");
const scatter = svg.append("g").attr("clip-path","url(#topClip)");
const massArea = d3.area().curve(d3.curveStepAfter).x((d,i)=>x(massHours[i])).y0((d,i)=>yA(massLow[i])).y1((d,i)=>yA(massHigh[i]));
scatter.append("path").attr("d",massArea(massHours)).attr("fill","#000").attr("shape-rendering","crispEdges");
scatter.append("rect").attr("x",x(flatBand[0])).attr("width",x(flatBand[1])-x(flatBand[0])).attr("y",yA(flatBand[3])).attr("height",yA(flatBand[2])-yA(flatBand[3])).attr("fill","#000");
const drawMarks=(list,path)=>list.forEach(c=>c.slice(1).forEach(k=>mk(scatter,path,x(c[0]),yA(k))));
drawMarks(maxMarks,mark.x(5));
drawMarks(vvisMarks,mark.p(6));
firstMarks.forEach(c=>mk(scatter,mark.d(6),x(c[0]),yA(c[1])));

// ---------- axes ----------
const crisp = g=>g.attr("class","crisp");
const minorH = d3.range(0,24.01,.3).filter(h=>Math.abs(h/3-Math.round(h/3))>.01);
const majorH = d3.range(0,24.01,3);
const minorK = d3.range(0,7.51,.5).filter(k=>k%2!==0);
const majorK = [0,2,4,6];
const ax=(gen,tx,ty)=>{const g=svg.append("g").attr("transform",`translate(${tx},${ty})`).call(gen.tickFormat("")).call(crisp);return g;};
ax(d3.axisBottom(x).tickValues(minorH).tickSize(9).tickSizeOuter(0),0,657);
ax(d3.axisBottom(x).tickValues(majorH.slice(1)).tickSize(15).tickSizeOuter(0),0,657);
ax(d3.axisTop(x).tickValues(minorH).tickSize(8).tickSizeOuter(0),0,350);
ax(d3.axisTop(x).tickValues(majorH.slice(1)).tickSize(15).tickSizeOuter(0),0,350);
[yA,yB].forEach(yy=>{
  ax(d3.axisLeft(yy).tickValues(minorK).tickSize(5).tickSizeOuter(0),71,0);
  ax(d3.axisLeft(yy).tickValues(majorK).tickSize(9).tickSizeOuter(0),71,0);
  ax(d3.axisRight(yy).tickValues(minorK).tickSize(5).tickSizeOuter(0),858,0);
  ax(d3.axisRight(yy).tickValues(majorK).tickSize(9).tickSizeOuter(0),858,0);
});

const txt=(s,px,py,size,len,anchor)=>{const t=svg.append("text").attr("x",px).attr("y",py).attr("font-size",size).text(s);if(len)t.attr("textLength",len).attr("lengthAdjust","spacingAndGlyphs");if(anchor)t.attr("text-anchor",anchor);return t;};

xTickHours.forEach((h,i)=>txt(xTickLabels[i],x(h)-29,703,19,58));
yTickKm.forEach(k=>{ if(k>0) txt(String(k),45,yA(k)+9,19,11); });
txt("0",45,343,19,11);
yTickKm.slice(1).forEach(k=>txt(String(k),45,yB(k)+8,19,11));
const rot=(s,px,py,size,len)=>svg.append("text").attr("transform",`translate(${px},${py}) rotate(-90)`).attr("font-size",size).attr("text-anchor","middle").attr("textLength",len).attr("lengthAdjust","spacingAndGlyphs").text(s);
rot("km AGL",25,189,19,78);
rot("km AGL",25,505,19,78);
rot("1/(10^4 srad km)",970,503,19,187);
txt(titleText,118,24,23,692);
txt("time (UTC)",408,727,19,112);

flagHours.forEach(h=>svg.append("path").attr("d",mark.t(6.5)).attr("transform",`translate(${x(h)},${664.5})`).attr("fill","none").attr("stroke","#000").attr("stroke-width",.8).attr("shape-rendering","crispEdges"));

// ---------- colour bar ----------
const bar = d3.scaleLog([1,colorMax],[656,352]);
const barY = d3.range(352,656);
svg.append("g").selectAll("rect").data(barY).join("rect").attr("x",872).attr("width",25).attr("y",d=>d).attr("height",1).attr("fill",d=>col(bar.invert(d+.5))).attr("shape-rendering","crispEdges");
svg.append("path").attr("d","M871.5,350V656.5H897.5V350").attr("fill","none").attr("stroke","#000").attr("shape-rendering","crispEdges");
colorTicks.forEach((v,i)=>txt(String(v),906,[658,555,446][i],19,[6,24,36][i]));

// ---------- legend ----------
txt("Cloud stats.:",887,63,19,133);
[mark.d(6.5),mark.t(6.5),mark.s(4.5),mark.p(6),mark.x(4)].forEach((p,i)=>{
  const yy=[76,97,117,137,157][i];
  mk(svg,p,886,yy);
  txt(legendNames[i],915,yy+7,19,[29,33,33,38,38][i]);
  txt(legendPct[i],[970,974,974,964,964][i],yy+7,18,[46,45,45,56,56][i]);
});
</script>
</body></html>
